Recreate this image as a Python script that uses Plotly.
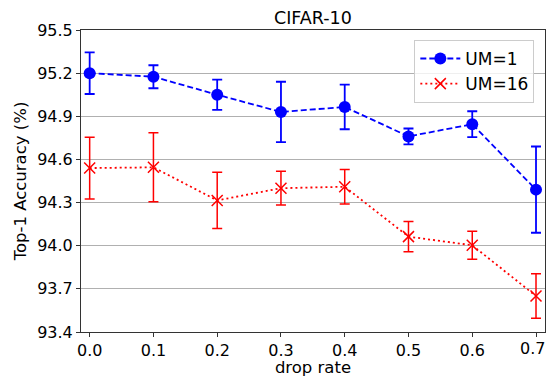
import plotly.graph_objects as go

drop_rate = [0.0, 0.1, 0.2, 0.3, 0.4, 0.5, 0.6, 0.7]
um1_mean = [95.20, 95.175, 95.05, 94.93, 94.965, 94.76, 94.845, 94.39]
um1_err = [0.145, 0.08, 0.105, 0.21, 0.155, 0.055, 0.09, 0.30]
um16_mean = [94.54, 94.545, 94.315, 94.40, 94.41, 94.063, 94.003, 93.65]
um16_err = [0.215, 0.24, 0.195, 0.117, 0.12, 0.105, 0.097, 0.155]
y_ticks = [93.4, 93.7, 94.0, 94.3, 94.6, 94.9, 95.2, 95.5]
x_ticks = [0.0, 0.1, 0.2, 0.3, 0.4, 0.5, 0.6, 0.7]

FONT = "DejaVu Sans"

fig = go.Figure()
fig.add_trace(go.Scatter(
    x=drop_rate, y=um1_mean, name="UM=1", mode="lines+markers",
    line=dict(color="#0000ff", width=1.8, dash="6px,3px"),
    marker=dict(symbol="circle", size=12, color="#0000ff"),
    error_y=dict(type="data", array=um1_err, color="#0000ff", thickness=1.8, width=5),
))
fig.add_trace(go.Scatter(
    x=drop_rate, y=um16_mean, name="UM=16", mode="lines+markers",
    line=dict(color="#ff0000", width=1.8, dash="2px,3px"),
    marker=dict(symbol="x-thin", size=11, color="#ff0000",
                line=dict(color="#ff0000", width=1.5)),
    error_y=dict(type="data", array=um16_err, color="#ff0000", thickness=1.5, width=5),
))

fig.update_layout(
    width=547, height=377,
    margin=dict(l=81, r=2, t=30, b=45),
    paper_bgcolor="white", plot_bgcolor="white",
    font=dict(family=FONT, size=16, color="black"),
    title=dict(text="CIFAR-10", x=0.572, xanchor="center", y=0.952, yanchor="middle",
               font=dict(family=FONT, size=17.5, color="black")),
    legend=dict(x=0.977, y=0.967, xanchor="right", yanchor="top",
                bgcolor="rgba(255,255,255,0.8)", bordercolor="#cccccc", borderwidth=1,
                font=dict(family=FONT, size=17), itemwidth=40, tracegroupgap=0),
    showlegend=True,
)
fig.update_xaxes(
    range=[-0.0136, 0.7141], tickvals=x_ticks, ticktext=[f"{v:.1f}" for v in x_ticks],
    showgrid=False, zeroline=False, showline=True, linecolor="#333333", linewidth=1,
    mirror=True, ticks="outside", ticklen=4, tickcolor="#333333",
    title=dict(text="drop rate", standoff=2, font=dict(family=FONT, size=16.5)),
    automargin=False,
)
fig.update_yaxes(
    range=[93.4, 95.5], tickvals=y_ticks, ticktext=[f"{v:.1f}" for v in y_ticks],
    showgrid=True, gridcolor="#b0b0b0", gridwidth=1, zeroline=False,
    showline=True, linecolor="#333333", linewidth=1, mirror=True,
    ticks="outside", ticklen=4, tickcolor="#333333",
    title=dict(text="Top-1 Accuracy (%)", standoff=6, font=dict(family=FONT, size=16.5)),
    automargin=False,
)

# last tick label sits at the very edge of the figure
fig.add_annotation(x=x_ticks[-1], xref="x", y=0, yref="paper", yanchor="top",
                   yshift=-5, xshift=-4, text=f"{x_ticks[-1]:.1f}", showarrow=False,
                   font=dict(family=FONT, size=16, color="black"))

fig.write_html("out.html", config={"displayModeBar": False})

with open("out.html", "r", encoding="utf-8") as f:
    html = f.read()
html = html.replace("<head>", "<head><style>html,body{margin:0;padding:0;overflow:hidden;}</style>", 1)
with open("out.html", "w", encoding="utf-8") as f:
    f.write(html)
